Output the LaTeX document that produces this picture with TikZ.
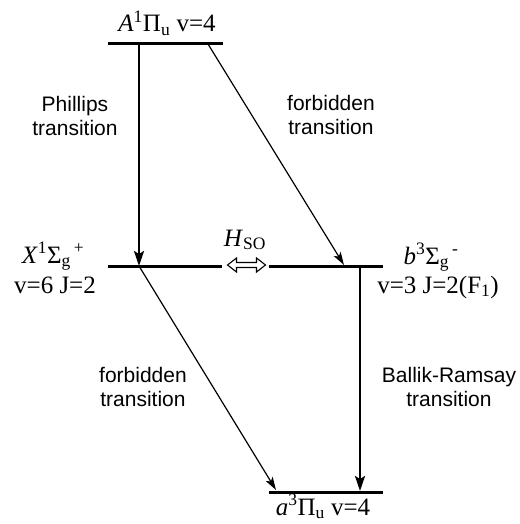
\documentclass[tikz,border=0pt]{standalone}
\usepackage{fontspec}
\setmainfont{Liberation Serif}
\newfontfamily\labfont{Liberation Sans}
\usetikzlibrary{arrows.meta,calc}
\tikzset{
  level/.style={line width=3pt},
  bigarrow/.style={line width=2.4pt,-{Stealth[length=15pt,width=10pt,inset=3pt]}},
  thinarrow/.style={line width=1.2pt,-{Stealth[length=13pt,width=8pt,inset=3pt]}},
  trlabel/.style={font=\labfont\fontsize{21}{23.5}\selectfont,align=center,inner sep=0pt},
  stlabel/.style={font=\fontsize{25}{28}\selectfont,inner sep=0pt,anchor=base}
}
\begin{document}
\begin{tikzpicture}[x=1pt,y=-1pt]
\useasboundingbox (0,0) rectangle (519,524);
% levels
\coordinate (A1) at (108,44); \coordinate (A2) at (223,44);
\coordinate (X1) at (108,266); \coordinate (X2) at (222,266);
\coordinate (b1) at (269,266); \coordinate (b2) at (383,266);
\coordinate (a1) at (269,492); \coordinate (a2) at (383,492);
\draw[level] (A1) -- (A2);
\draw[level] (X1) -- (X2);
\draw[level] (b1) -- (b2);
\draw[level] (a1) -- (a2);
% transition end points
\coordinate (Aph) at (139,44);
\coordinate (Xph) at (139,266);
\coordinate (Afb) at (208,44);
\coordinate (bfb) at (344,265);
\coordinate (afb) at (276,490);
\coordinate (bbr) at (360,266);
\coordinate (abr) at (360,491);
\draw[bigarrow] (Aph) -- (Xph);
\draw[thinarrow] (Afb) -- (bfb);
\draw[thinarrow] (Xph) -- (afb);
\draw[bigarrow] (bbr) -- (abr);
% H_SO double arrow
\coordinate (hso) at (246.5,265);
\draw[line width=1.1pt,fill=white,line join=miter]
  ($(hso)+(-19,0)$) -- ++(9,-7) -- ++(0,4.5) -- ++(20,0) -- ++(0,-4.5) -- ++(9,7)
  -- ++(-9,7) -- ++(0,-4.5) -- ++(-20,0) -- ++(0,4.5) -- cycle;
% state labels
\node[stlabel] (Alab) at (167,32) {\textit{A}\textsuperscript{1}Π\textsubscript{u} v=4};
\node[stlabel] (Xlab) at (53,263) {\textit{X}\textsuperscript{1}Σ\textsubscript{g}\textsuperscript{\,+}};
\node[stlabel] (Xlab2) at (55,293) {v=6 J=2};
\node[stlabel] (blab) at (431,264) {\textit{b}\textsuperscript{3}Σ\textsubscript{g}\textsuperscript{\,-}};
\node[stlabel] (blab2) at (438,293) {v=3 J=2(F\textsubscript{1})};
\node[stlabel] (alab) at (323,515) {\textit{a}\textsuperscript{3}Π\textsubscript{u} v=4};
\node[stlabel] (hlab) at (245,246) {\textit{H}\textsubscript{SO}};
% transition labels
\node[trlabel] (ph) at (75,116) {Phillips\\transition};
\node[trlabel] (fb1) at (331,115) {forbidden\\transition};
\node[trlabel] (fb2) at (143,387) {forbidden\\transition};
\node[trlabel] (br) at (449,387) {Ballik-Ramsay\\transition};
\end{tikzpicture}
\end{document}
